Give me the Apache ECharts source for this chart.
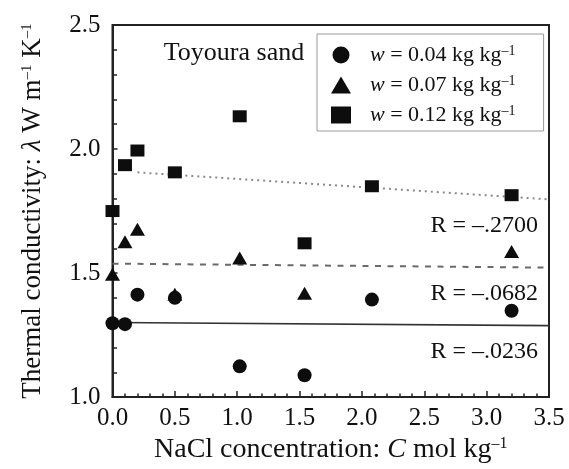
<!DOCTYPE html>
<html><head><meta charset="utf-8">
<script src="https://cdn.jsdelivr.net/npm/echarts@6/dist/echarts.min.js"></script>
<style>html,body{margin:0;padding:0;background:#fff}#c{width:569px;height:469px}</style>
</head><body><div id="c"></div>
<script>
// ---- data ----
const concentration = [0, 0.1, 0.2, 0.5, 1.02, 1.54, 2.08, 3.2];
const lambda004 = [1.298, 1.294, 1.413, 1.400, 1.124, 1.088, 1.393, 1.348];
const lambda007 = [1.495, 1.626, 1.677, 1.415, 1.561, 1.419, null, 1.587];
const lambda012 = [1.750, 1.935, 1.994, 1.906, 2.132, 1.620, 1.850, 1.814];
const fit004 = [[0, 1.301], [3.5, 1.288]];
const fit007 = [[0, 1.538], [3.5, 1.522]];
const fit012 = [[0.2, 1.906], [3.5, 1.797]];
const rLabels = ['R = \u2013.0236', 'R = \u2013.0682', 'R = \u2013.2700'];
const seriesNames = ['w = 0.04', 'w = 0.07', 'w = 0.12'];
const xTickLabels = ['0.0', '0.5', '1.0', '1.5', '2.0', '2.5', '3.0', '3.5'];
const yTickLabels = ['1.0', '1.5', '2.0', '2.5'];

const FONT = '"Liberation Serif", "Times New Roman", serif';
const INK = '#111';

function pts(vals) {
  const out = [];
  concentration.forEach((c, i) => { if (vals[i] != null) out.push([c, vals[i]]); });
  return out;
}

const chart = echarts.init(document.getElementById('c'), null, {renderer: 'canvas'});

const scatterBase = {
  type: 'scatter',
  itemStyle: {color: '#0d0d0d', opacity: 1},
  z: 5
};

const option = {
  animation: false,
  backgroundColor: '#fff',
  grid: {left: 112.5, right: 20, top: 25, bottom: 63.3, show: true, borderColor: '#222', borderWidth: 2, backgroundColor: 'transparent'},
  xAxis: {
    type: 'value', min: 0, max: 3.5, interval: 0.5,
    axisLine: {show: true, lineStyle: {color: '#222', width: 2}},
    axisTick: {show: true, inside: true, length: 6, lineStyle: {color: '#222', width: 1.5}},
    minorTick: {show: true, splitNumber: 5, length: 3.5, lineStyle: {color: '#222', width: 1.5}},
    splitLine: {show: false},
    axisLabel: {
      margin: 9, fontFamily: FONT, fontSize: 25, color: INK,
      formatter: v => xTickLabels[Math.round(v / 0.5)]
    },
    name: 'NaCl concentration: {i|C} mol kg{sup|\u20131}',
    nameLocation: 'middle', nameGap: 36,
    nameTextStyle: {
      fontFamily: FONT, fontSize: 28, color: INK,
      rich: {
        i: {fontFamily: FONT, fontSize: 28, fontStyle: 'italic', color: INK},
        sup: {fontFamily: FONT, fontSize: 16, color: INK, verticalAlign: 'top'}
      }
    }
  },
  yAxis: {
    type: 'value', min: 1.0, max: 2.5, interval: 0.5,
    axisLine: {show: true, lineStyle: {color: '#222', width: 2}},
    axisTick: {show: true, inside: true, length: 5, lineStyle: {color: '#222', width: 1.5}},
    minorTick: {show: true, splitNumber: 5, length: 4.5, lineStyle: {color: '#222', width: 1.5}},
    splitLine: {show: false},
    axisLabel: {
      margin: 12, fontFamily: FONT, fontSize: 25, color: INK,
      formatter: v => yTickLabels[Math.round((v - 1.0) / 0.5)]
    },
    name: 'Thermal conductivity: {i|\u03bb} W m{sup|\u20131} K{sup|\u20131}',
    nameLocation: 'middle', nameGap: 66,
    nameTextStyle: {
      fontFamily: FONT, fontSize: 27, color: INK,
      rich: {
        i: {fontFamily: FONT, fontSize: 27, fontStyle: 'italic', color: INK},
        sup: {fontFamily: FONT, fontSize: 15, color: INK, verticalAlign: 'top'}
      }
    }
  },
  legend: {
    orient: 'vertical', left: 317, top: 34,
    borderColor: '#9a9a9a', borderWidth: 1,
    padding: [10, 28, 5, 14],
    itemWidth: 20, itemHeight: 17, itemGap: 8,
    data: [
      {name: seriesNames[0], icon: 'circle'},
      {name: seriesNames[1], icon: 'triangle'},
      {name: seriesNames[2], icon: 'rect'}
    ],
    formatter: name => '{sp|}{i|w} = ' + name.slice(4) + ' kg kg{sup|\u20131}',
    textStyle: {
      fontFamily: FONT, fontSize: 22, color: INK,
      rich: {
        sp: {width: 14},
        i: {fontFamily: FONT, fontSize: 22, fontStyle: 'italic', color: INK},
        sup: {fontFamily: FONT, fontSize: 14, color: INK, verticalAlign: 'top'}
      }
    },
    itemStyle: {color: '#0d0d0d'},
    selectedMode: false
  },
  series: [
    Object.assign({}, scatterBase, {name: seriesNames[0], symbol: 'circle', symbolSize: 14, data: pts(lambda004)}),
    Object.assign({}, scatterBase, {name: seriesNames[1], symbol: 'triangle', symbolSize: [15, 13], data: pts(lambda007)}),
    Object.assign({}, scatterBase, {name: seriesNames[2], symbol: 'rect', symbolSize: [14, 12], data: pts(lambda012)}),
    {type: 'line', data: fit004, symbol: 'none', silent: true, z: 3,
      lineStyle: {color: '#333', width: 1.6, type: 'solid'}},
    {type: 'line', data: fit007, symbol: 'none', silent: true, z: 3,
      lineStyle: {color: '#6a6a6a', width: 2, type: [6, 6.5]}},
    {type: 'line', data: fit012, symbol: 'none', silent: true, z: 3,
      lineStyle: {color: '#8a8a8a', width: 2, type: [2, 4]}}
  ]
};
chart.setOption(option);

// annotations: positioned relative to the fitted lines via the chart's scales
const fits = [fit004, fit007, fit012];
const graphics = fits.map((f, k) => {
  const end = chart.convertToPixel({xAxisIndex: 0, yAxisIndex: 0}, f[f.length - 1]);
  return {
    type: 'text', x: end[0] - 11, y: end[1] + 26,
    style: {text: rLabels[k], font: '24px ' + FONT, fill: INK, textAlign: 'right', textVerticalAlign: 'middle'},
    z: 10
  };
});
graphics.push({
  type: 'text', x: 234, y: 53,
  style: {text: 'Toyoura sand', font: '26px ' + FONT, fill: INK, textAlign: 'center', textVerticalAlign: 'middle'},
  z: 10
});
chart.setOption({graphic: graphics});
</script>
</body></html>
